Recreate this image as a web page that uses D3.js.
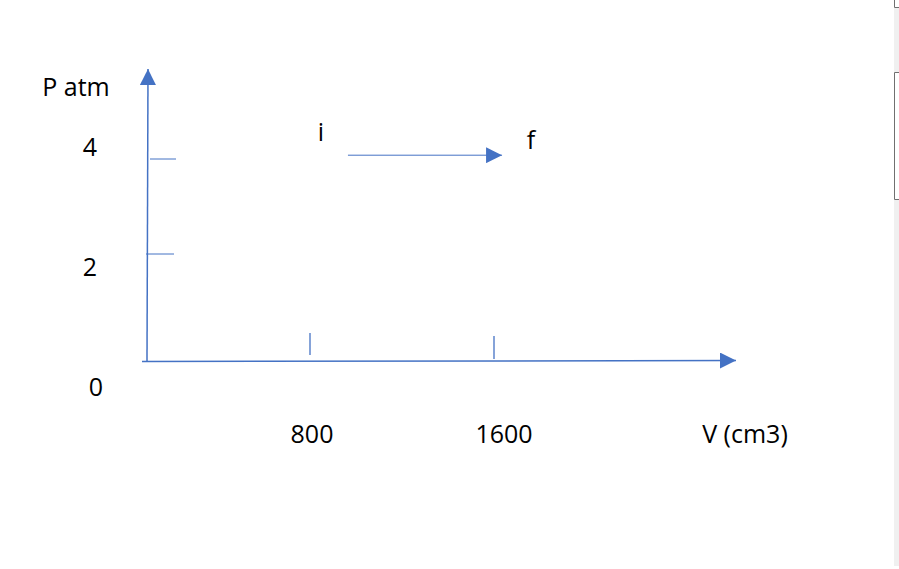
<!DOCTYPE html>
<html>
<head>
<meta charset="utf-8">
<script src="https://cdn.jsdelivr.net/npm/d3@7"></script>
<style>
  html, body { margin: 0; padding: 0; background: #fff; }
  svg { display: block; }
  text { font-family: "Open Sans", "Segoe UI", sans-serif; fill: #000; }
</style>
</head>
<body>
<script>
// ---- data ----
const xTickValues = [800, 1600];
const xTickLabels = ["800", "1600"];
const yTickValues = [2, 4];
const yTickLabels = ["0", "2", "4"];
const yLabelValues = [0, 2, 4];
const xAxisTitle = "V (cm3)";
const yAxisTitle = "P atm";
// process i -> f
const processV = [965, 1635];
const processP = [4.08, 4.08];
const processNames = ["i", "f"];

const W = 899, H = 569;
const blue = "#4472C4";
const FS = 25;

const svg = d3.select("body").append("svg")
  .attr("width", W).attr("height", H);

// hand-drawn axes: piecewise linear scales
const x = d3.scaleLinear().domain([0, 800, 1600]).range([147, 310, 494]);
const y = d3.scaleLinear().domain([0, 2, 4]).range([361, 254, 159]);
const xLab = d3.scaleLinear().domain([0, 800, 1600]).range([147, 312, 504]);
const yLab = d3.scaleLinear().domain([0, 4]).range([387, 147]);

// arrowhead markers
const defs = svg.append("defs");
defs.append("marker")
  .attr("id", "tri")
  .attr("viewBox", "0 0 16 16")
  .attr("refX", 16).attr("refY", 8)
  .attr("markerWidth", 16).attr("markerHeight", 16)
  .attr("markerUnits", "userSpaceOnUse")
  .attr("orient", "auto")
  .append("path").attr("d", "M0,0 L16,8 L0,16 Z").attr("fill", blue);

// Y axis
svg.append("line")
  .attr("x1", x(0)).attr("y1", y(0))
  .attr("x2", x(0) + 1).attr("y2", 69)
  .attr("stroke", blue).attr("stroke-width", 1.5)
  .attr("marker-end", "url(#tri)");

// X axis
svg.append("line")
  .attr("x1", x(0) - 5).attr("y1", y(0) + 0.5)
  .attr("x2", 736).attr("y2", y(0) - 0.5)
  .attr("stroke", blue).attr("stroke-width", 1.5)
  .attr("marker-end", "url(#tri)");

// Y ticks (short horizontal strokes)
const yTickOffsets = { 2: [-1, 27], 4: [3, 29] };
svg.selectAll(".ytick").data(yTickValues).enter().append("line")
  .attr("class", "ytick")
  .attr("x1", d => x(0) + yTickOffsets[d][0])
  .attr("x2", d => x(0) + yTickOffsets[d][1])
  .attr("y1", d => y(d)).attr("y2", d => y(d))
  .attr("stroke", blue).attr("stroke-width", 1);

// X ticks (short vertical strokes)
const xTickOffsets = { 800: [-28, -6], 1600: [-25, -2] };
svg.selectAll(".xtick").data(xTickValues).enter().append("line")
  .attr("class", "xtick")
  .attr("x1", d => x(d)).attr("x2", d => x(d))
  .attr("y1", d => y(0) + xTickOffsets[d][0])
  .attr("y2", d => y(0) + xTickOffsets[d][1])
  .attr("stroke", blue).attr("stroke-width", 1.3);

// Y labels
svg.selectAll(".ylab").data(yLabelValues).enter().append("text")
  .attr("class", "ylab")
  .attr("x", (d, i) => i === 0 ? 96 : 90)
  .attr("y", d => yLab(d))
  .attr("dy", "0.36em")
  .attr("text-anchor", "middle")
  .attr("font-size", FS)
  .text((d, i) => yTickLabels[i]);

// X labels
svg.selectAll(".xlab").data(xTickValues).enter().append("text")
  .attr("class", "xlab")
  .attr("x", d => xLab(d))
  .attr("y", 443)
  .attr("text-anchor", "middle")
  .attr("font-size", FS)
  .text((d, i) => xTickLabels[i]);

svg.append("text")
  .attr("x", 745).attr("y", 443)
  .attr("text-anchor", "middle")
  .attr("font-size", FS)
  .text(xAxisTitle);

svg.append("text")
  .attr("x", 76).attr("y", 96)
  .attr("text-anchor", "middle")
  .attr("font-size", FS)
  .text(yAxisTitle);

// process arrow
svg.append("line")
  .attr("x1", x(processV[0])).attr("y1", y(processP[0]))
  .attr("x2", x(processV[1])).attr("y2", y(processP[1]))
  .attr("stroke", blue).attr("stroke-width", 1)
  .attr("marker-end", "url(#tri)");

svg.append("text")
  .attr("x", x(processV[0]) - 27).attr("y", y(processP[0]) - 14)
  .attr("text-anchor", "middle").attr("font-size", FS)
  .text(processNames[0]);
svg.append("text")
  .attr("x", x(processV[1]) + 29).attr("y", y(processP[1]) - 6)
  .attr("text-anchor", "middle").attr("font-size", FS)
  .text(processNames[1]);

// right-edge page chrome
svg.append("rect").attr("x", 894).attr("y", 8).attr("width", 5).attr("height", 64).attr("fill", "#f0f0f0");
svg.append("rect").attr("x", 894).attr("y", 200).attr("width", 5).attr("height", 366).attr("fill", "#f0f0f0");
const chrome = "#707070";
svg.append("path").attr("d", "M894.5,0 V7.5 H899").attr("fill", "none").attr("stroke", chrome).attr("stroke-width", 1);
svg.append("path").attr("d", "M899,72.5 H894.5 V199.5 H899").attr("fill", "none").attr("stroke", chrome).attr("stroke-width", 1);
</script>
</body>
</html>
